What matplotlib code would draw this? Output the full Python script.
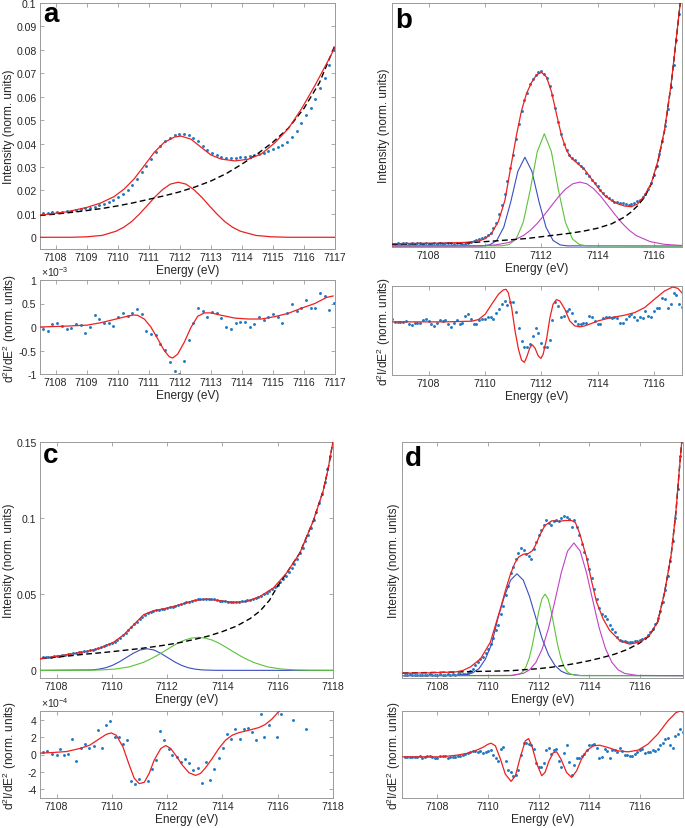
import numpy as np
import matplotlib
matplotlib.use('Agg')
import matplotlib.pyplot as plt
from matplotlib.transforms import Bbox, TransformedBbox

plt.rcParams['font.family'] = ['Liberation Sans', 'DejaVu Sans']
plt.rcParams['mathtext.fontset'] = 'custom'
plt.rcParams['mathtext.rm'] = 'Liberation Sans'
plt.rcParams['mathtext.it'] = 'Liberation Sans:italic'
plt.rcParams['mathtext.bf'] = 'Liberation Sans:bold'
plt.rcParams['axes.unicode_minus'] = False

# ---------------- Panel a ----------------
a_dot_E = np.linspace(7107.6, 7116.97, 63)
a_dots = [0.0103, 0.0105, 0.0106, 0.0108, 0.0110, 0.0112, 0.0114, 0.0117, 0.0120, 0.0123,
          0.0127, 0.0131, 0.0137, 0.0144, 0.0151, 0.0160, 0.0172, 0.0186, 0.0203, 0.0225,
          0.0250, 0.0278, 0.0305, 0.0335, 0.0365, 0.0390, 0.0410, 0.0425, 0.0435, 0.0440,
          0.0440, 0.0436, 0.0424, 0.0410, 0.0390, 0.0372, 0.0360, 0.0350, 0.0343, 0.0339,
          0.0339, 0.0340, 0.0341, 0.0342, 0.0345, 0.0350, 0.0354, 0.0360, 0.0370, 0.0378,
          0.0384, 0.0392, 0.0405, 0.0428, 0.0455, 0.0488, 0.0520, 0.0552, 0.0592, 0.0636,
          0.0680, 0.0737, 0.0800]
a_fit_E = [7107.52, 7108.38, 7109.02, 7109.45, 7109.89, 7110.21, 7110.53, 7110.86, 7111.18,
           7111.50, 7111.83, 7112.04, 7112.36, 7112.69, 7113.01, 7113.33, 7113.77, 7114.20,
           7114.63, 7115.06, 7115.49, 7115.92, 7116.35, 7116.78, 7117.05]
a_fit = [0.0095, 0.0109, 0.0128, 0.0146, 0.0174, 0.0206, 0.0249, 0.0306, 0.0363,
         0.0405, 0.0428, 0.0432, 0.0419, 0.0384, 0.0351, 0.0334, 0.0326, 0.0333,
         0.0356, 0.0403, 0.0463, 0.0548, 0.0647, 0.0754, 0.0825]
a_peak_E = [7107.5, 7108.5, 7109.0, 7109.5, 7109.95, 7110.2, 7110.45, 7110.7, 7110.95, 7111.2,
            7111.45, 7111.7, 7111.95, 7112.2, 7112.45, 7112.7, 7112.95, 7113.2, 7113.45,
            7113.7, 7113.95, 7114.45, 7114.95, 7115.5, 7117.0]
a_peak = [0, 0, 0.0002, 0.0008, 0.0026, 0.0043, 0.0067, 0.0099, 0.0135, 0.0172,
          0.0204, 0.0227, 0.0235, 0.0227, 0.0204, 0.0172, 0.0135, 0.0099, 0.0067,
          0.0043, 0.0026, 0.0008, 0.0002, 0, 0]
a_base_E = [7107.5, 7108.0, 7108.5, 7109.0, 7109.5, 7110.0, 7110.5, 7111.0, 7111.5, 7112.0,
            7112.5, 7113.0, 7113.5, 7114.0, 7114.5, 7115.0, 7115.5, 7116.0, 7116.5, 7117.0]
a_base = [0.0093, 0.0099, 0.0106, 0.0114, 0.0123, 0.0134, 0.0147, 0.0162, 0.0177, 0.0194,
          0.0215, 0.0240, 0.0272, 0.0312, 0.0356, 0.0406, 0.0466, 0.0550, 0.0660, 0.0820]
# second derivative (x1e-3)
a_d2_dots = [-0.05, -0.08, 0.06, 0.09, 0.02, -0.04, -0.03, 0.07, 0.04, -0.12,
             -0.01, 0.25, 0.18, 0.09, 0.09, 0.02, 0.22, 0.29, 0.24, 0.29,
             0.38, 0.27, -0.09, -0.14, -0.17, -0.37, -0.49, -0.74, -0.94, -0.99,
             -0.72, -0.27, 0.09, 0.41, 0.35, 0.22, 0.31, 0.30, 0.20, 0.01,
             -0.04, 0.09, 0.11, 0.11, 0.01, 0.06, 0.21, 0.14, 0.21, 0.27,
             0.22, 0.09, 0.30, 0.50, 0.35, 0.40, 0.58, 0.40, 0.41, 0.72,
             0.65, 0.37, 0.52]
a_d2_fit_E = [7107.52, 7108.38, 7109.02, 7109.45, 7109.89, 7110.32, 7110.5, 7110.64, 7110.86,
              7111.07, 7111.29, 7111.50, 7111.66, 7111.77, 7111.93, 7112.15, 7112.36, 7112.58,
              7112.80, 7113.01, 7113.33, 7113.77, 7114.20, 7114.63, 7115.06, 7115.49, 7115.92,
              7116.35, 7116.73, 7116.94]
a_d2_fit = [0.00, 0.02, 0.04, 0.09, 0.16, 0.23, 0.255, 0.25, 0.17,
            0.00, -0.25, -0.50, -0.63, -0.66, -0.58, -0.32, -0.01, 0.23,
            0.30, 0.30, 0.25, 0.19, 0.17, 0.17, 0.22, 0.29, 0.40,
            0.50, 0.63, 0.66]

# ---------------- Panel b ----------------
b_dot_E = 7106.8 + 0.1 * np.arange(102)
b_dots = [0.010, 0.011, 0.009, 0.012, 0.013, 0.008, 0.011, 0.010, 0.014, 0.011,
          0.009, 0.012, 0.010, 0.008, 0.011, 0.009, 0.013, 0.010, 0.012, 0.014,
          0.011, 0.009, 0.012, 0.014, 0.010, 0.008, 0.012, 0.017, 0.022, 0.026,
          0.030, 0.034, 0.039, 0.046, 0.055, 0.072, 0.095, 0.130, 0.170, 0.215,
          0.268, 0.320, 0.372, 0.440, 0.500, 0.552, 0.600, 0.628, 0.665, 0.685,
          0.700, 0.712, 0.718, 0.705, 0.688, 0.655, 0.620, 0.565, 0.510, 0.460,
          0.420, 0.392, 0.372, 0.360, 0.352, 0.340, 0.330, 0.318, 0.300, 0.285,
          0.270, 0.258, 0.244, 0.230, 0.218, 0.205, 0.197, 0.190, 0.182, 0.180,
          0.176, 0.177, 0.174, 0.170, 0.172, 0.178, 0.183, 0.190, 0.200, 0.212,
          0.232, 0.258, 0.292, 0.330, 0.378, 0.430, 0.490, 0.560, 0.650, 0.740,
          0.845, 0.950]
b_fit_E = [7106.70, 7107.41, 7108.59, 7109.30, 7109.77, 7110.01, 7110.24, 7110.48, 7110.71,
           7110.95, 7111.13, 7111.30, 7111.48, 7111.66, 7111.83, 7112.01, 7112.19, 7112.37,
           7112.54, 7112.72, 7112.90, 7113.07, 7113.31, 7113.55, 7113.78, 7114.02, 7114.25,
           7114.49, 7114.72, 7114.96, 7115.20, 7115.43, 7115.67, 7115.91, 7116.14, 7116.38,
           7116.61, 7116.85, 7116.94]
b_fit = [0.0095, 0.011, 0.012, 0.015, 0.020, 0.030, 0.053, 0.101, 0.187,
         0.344, 0.460, 0.555, 0.626, 0.671, 0.701, 0.712, 0.692, 0.630,
         0.542, 0.453, 0.392, 0.360, 0.337, 0.312, 0.276, 0.239, 0.207,
         0.187, 0.173, 0.164, 0.161, 0.173, 0.207, 0.258, 0.347, 0.476,
         0.660, 0.906, 0.999]
b_blue_E = [7106.7, 7109.92, 7110.17, 7110.42, 7110.67, 7110.92, 7111.17, 7111.42, 7111.67,
            7111.92, 7112.17, 7112.42, 7112.67, 7112.92, 7117.0]
b_blue = [0, 0.0007, 0.0048, 0.0228, 0.077, 0.182, 0.306, 0.364, 0.306,
          0.182, 0.077, 0.0228, 0.0048, 0.0007, 0]
b_green_E = [7106.7, 7110.61, 7110.86, 7111.11, 7111.36, 7111.61, 7111.86, 7112.11, 7112.36,
             7112.61, 7112.86, 7113.11, 7113.36, 7113.61, 7117.0]
b_green = [0, 0.0009, 0.0061, 0.0288, 0.0966, 0.23, 0.387, 0.46, 0.387,
           0.23, 0.0966, 0.0288, 0.0061, 0.0009, 0]
b_mag_E = [7106.7, 7109.37, 7109.87, 7110.37, 7110.87, 7111.37, 7111.62, 7111.87, 7112.12,
           7112.37, 7112.62, 7112.87, 7113.12, 7113.37, 7113.62, 7113.87, 7114.12, 7114.37,
           7114.62, 7114.87, 7115.12, 7115.37, 7115.87, 7116.37, 7116.87, 7117.0]
b_mag = [0, 0.0003, 0.001, 0.0044, 0.015, 0.043, 0.065, 0.094, 0.129,
         0.166, 0.203, 0.234, 0.255, 0.262, 0.255, 0.234, 0.203, 0.166,
         0.129, 0.094, 0.065, 0.043, 0.018, 0.007, 0.003, 0.0025]
b_base_E = [7106.7, 7107.5, 7108.5, 7109.5, 7110.5, 7111.5, 7112.5, 7113.0, 7113.5, 7114.0,
            7114.5, 7114.96, 7115.2, 7115.43, 7115.67, 7115.91, 7116.14, 7116.38, 7116.61,
            7116.85, 7116.94]
b_base = [0.007, 0.009, 0.011, 0.014, 0.022, 0.031, 0.045, 0.052, 0.061, 0.073,
          0.091, 0.119, 0.140, 0.166, 0.200, 0.255, 0.344, 0.473, 0.658,
          0.903, 0.999]
b_d2_dot_E = 7106.7 + 0.1 * np.arange(104)
b_d2_dots = [0.10, 0.00, -0.01, 0.01, 0.00, 0.03, -0.07, -0.09, -0.02, -0.03,
             -0.02, 0.06, 0.10, 0.03, -0.07, -0.12, -0.02, 0.05, 0.03, 0.05,
             -0.05, -0.14, -0.02, 0.06, -0.07, -0.02, 0.18, 0.23, 0.10, -0.07,
             -0.07, 0.05, 0.08, 0.08, 0.15, 0.15, 0.10, 0.27, 0.40, 0.55,
             0.62, 0.52, 0.60, 0.60, 0.29, -0.18, -0.58, -0.76, -0.76, -0.68,
             -0.43, -0.18, -0.33, -0.65, -0.76, -0.76, -0.55, 0.07, 0.59, 0.47,
             0.15, 0.19, 0.32, 0.39, 0.27, 0.02, -0.05, -0.05, -0.04, -0.03,
             0.17, 0.14, 0.02, -0.07, -0.07, 0.13, 0.15, 0.15, 0.13, 0.15,
             0.11, -0.02, -0.04, 0.08, 0.18, 0.25, 0.15, 0.05, 0.15, 0.11,
             0.33, 0.18, 0.16, 0.33, 0.43, 0.43, 0.71, 0.68, 0.43, 0.53,
             0.88, 0.81, 0.53, 0.46]
b_d2_fit_E = [7106.70, 7108.59, 7109.53, 7109.77, 7110.01, 7110.24, 7110.48, 7110.65, 7110.75,
              7110.83, 7110.95, 7111.07, 7111.19, 7111.30, 7111.40, 7111.48, 7111.60, 7111.68,
              7111.78, 7111.89, 7111.99, 7112.07, 7112.19, 7112.31, 7112.42, 7112.54, 7112.66,
              7112.84, 7113.01, 7113.19, 7113.37, 7113.55, 7113.78, 7114.02, 7114.49, 7114.96,
              7115.32, 7115.67, 7116.02, 7116.38, 7116.67, 7116.85, 7116.99]
b_d2_fit = [0, 0, 0.02, 0.07, 0.23, 0.53, 0.83, 0.96, 0.98,
            0.88, 0.43, -0.27, -0.82, -1.15, -1.22, -1.07, -0.77, -0.69,
            -0.79, -1.02, -1.10, -0.97, -0.52, 0.13, 0.53, 0.67, 0.63,
            0.38, 0.03, -0.12, -0.15, -0.12, -0.05, 0.03, 0.13, 0.20,
            0.28, 0.43, 0.68, 0.93, 1.05, 1.01, 0.88]

# ---------------- Panel c ----------------
c_dot_E = 7107.5 + 0.1 * np.arange(105)
c_dots = [0.0085, 0.0087, 0.0089, 0.0091, 0.0093, 0.0095, 0.0097, 0.0100, 0.0102, 0.0105,
          0.0108, 0.0111, 0.0114, 0.0118, 0.0121, 0.0125, 0.0129, 0.0133, 0.0137, 0.0142,
          0.0147, 0.0152, 0.0158, 0.0164, 0.0171, 0.0179, 0.0189, 0.0201, 0.0215, 0.0230,
          0.0247, 0.0266, 0.0285, 0.0303, 0.0321, 0.0338, 0.0353, 0.0366, 0.0376, 0.0384,
          0.0390, 0.0394, 0.0398, 0.0402, 0.0406, 0.0410, 0.0414, 0.0419, 0.0424, 0.0429,
          0.0434, 0.0440, 0.0446, 0.0452, 0.0458, 0.0463, 0.0467, 0.0470, 0.0472, 0.0472,
          0.0471, 0.0469, 0.0466, 0.0462, 0.0459, 0.0456, 0.0453, 0.0451, 0.0450, 0.0449,
          0.0450, 0.0451, 0.0453, 0.0456, 0.0460, 0.0465, 0.0471, 0.0477, 0.0484, 0.0491,
          0.0500, 0.0510, 0.0521, 0.0533, 0.0547, 0.0563, 0.0581, 0.0601, 0.0623, 0.0647,
          0.0673, 0.0701, 0.0733, 0.0768, 0.0806, 0.0847, 0.0890, 0.0937, 0.0988, 0.1043,
          0.1101, 0.1160, 0.1240, 0.1320, 0.1410]
c_fit_E = [7107.42, 7108.38, 7109.11, 7109.59, 7110.07, 7110.43, 7110.79, 7111.15, 7111.51,
           7111.99, 7112.47, 7112.95, 7113.43, 7113.91, 7114.39, 7114.88, 7115.36, 7115.84,
           7116.32, 7116.80, 7117.28, 7117.64, 7117.82, 7118.0]
c_fit = [0.0077, 0.0103, 0.0125, 0.0147, 0.0186, 0.0234, 0.0300, 0.0366, 0.0392,
         0.0409, 0.0431, 0.0458, 0.0469, 0.0458, 0.0447, 0.0453, 0.0486, 0.0541,
         0.0639, 0.0771, 0.0979, 0.1176, 0.132, 0.1504]
c_blue_E = [7107.4, 7109.27, 7109.52, 7109.77, 7110.02, 7110.27, 7110.52, 7110.77, 7111.02,
            7111.27, 7111.52, 7111.77, 7112.02, 7112.27, 7112.52, 7112.77, 7113.02, 7113.27,
            7113.77, 7118.0]
c_blue = [0, 0.0003, 0.0008, 0.0017, 0.0033, 0.0056, 0.0084, 0.0112, 0.0134,
          0.0142, 0.0134, 0.0112, 0.0084, 0.0056, 0.0033, 0.0017, 0.0008, 0.0003,
          0.00004, 0]
c_green_E = [7107.4, 7109.13, 7109.63, 7110.13, 7110.63, 7111.13, 7111.38, 7111.63, 7111.88,
             7112.13, 7112.38, 7112.63, 7112.88, 7113.13, 7113.38, 7113.63, 7113.88, 7114.13,
             7114.38, 7114.63, 7114.88, 7115.13, 7115.63, 7116.13, 7116.63, 7117.13, 7118.0]
c_green = [0, 0.0001, 0.0003, 0.0009, 0.0023, 0.0052, 0.0073, 0.0097, 0.0124,
           0.0152, 0.0178, 0.0199, 0.0212, 0.0217, 0.0212, 0.0199, 0.0178, 0.0152,
           0.0124, 0.0097, 0.0073, 0.0052, 0.0023, 0.0009, 0.0003, 0.0001, 0]
c_base_E = [7107.42, 7108.0, 7108.5, 7109.0, 7109.5, 7110.0, 7110.5, 7111.0, 7111.5, 7112.0,
            7112.5, 7113.0, 7113.5, 7114.0, 7114.5, 7115.0, 7115.36, 7115.7, 7116.0, 7116.32,
            7116.80, 7117.28, 7117.64, 7117.82, 7118.0]
c_base = [0.0077, 0.0087, 0.0096, 0.0106, 0.0114, 0.0123, 0.0133, 0.0143, 0.0155, 0.0168,
          0.0184, 0.0204, 0.0226, 0.0255, 0.0290, 0.0340, 0.0390, 0.0460, 0.0555, 0.0639,
          0.0771, 0.0979, 0.1176, 0.132, 0.1504]
# second derivative (x1e-4)
c_d2_dot_E = [7107.50, 7107.66, 7107.84, 7108.00, 7108.12, 7108.28, 7108.42, 7108.57, 7108.72,
              7108.87, 7109.04, 7109.17, 7109.34, 7109.50, 7109.64, 7109.80, 7109.95, 7110.10,
              7110.25, 7110.40, 7110.54, 7110.69, 7110.85, 7110.99, 7111.29, 7111.45, 7111.59,
              7111.75, 7111.89, 7112.05, 7112.19, 7112.34, 7112.49, 7112.65, 7112.79, 7112.95,
              7113.11, 7113.27, 7113.41, 7113.56, 7113.71, 7113.87, 7114.01, 7114.17, 7114.32,
              7114.47, 7114.62, 7114.77, 7114.92, 7115.07, 7115.22, 7115.38, 7115.52, 7115.68,
              7115.98, 7116.12, 7116.56, 7117.04]
c_d2_dots = [0.23, 0.38, 0.11, -0.08, 0.61, 0.00, 0.11, 1.83, -0.76,
             0.69, 1.26, 0.76, 0.99, 2.86, 0.76, 3.43, 3.89, 2.02,
             2.02, 1.26, 1.71, -3.05, -3.43, -2.82, -3.05, -1.68, -0.65,
             2.70, 1.64, 0.61, -0.08, -0.34, -0.84, -0.57, -0.95, -1.80,
             -1.50, -3.25, -0.90, -2.95, -1.65, -0.40, 0.76, 2.32, 1.83,
             2.97, 1.75, 2.90, 3.09, 2.59, 1.64, 4.60, 2.02, 3.35,
             2.02, 4.69, 3.92, 2.97]
c_d2_fit_E = [7107.40, 7107.88, 7108.36, 7108.84, 7109.20, 7109.56, 7109.80, 7109.98, 7110.16,
              7110.40, 7110.63, 7110.81, 7110.99, 7111.17, 7111.35, 7111.53, 7111.77, 7111.95,
              7112.13, 7112.31, 7112.55, 7112.79, 7113.03, 7113.21, 7113.39, 7113.63, 7113.87,
              7114.11, 7114.35, 7114.59, 7114.95, 7115.31, 7115.54, 7115.78, 7116.02, 7116.14]
c_d2_fit = [0.15, 0.23, 0.34, 0.69, 1.07, 1.83, 2.32, 2.48, 2.21,
            0.88, -1.22, -2.74, -3.35, -3.20, -2.17, -0.65, 0.69, 1.03,
            0.69, -0.08, -1.22, -2.10, -2.40, -2.17, -1.52, -0.46, 0.69,
            1.64, 2.21, 2.51, 2.78, 3.09, 3.43, 4.04, 4.88, 5.18]

# ---------------- Panel d ----------------
d_dot_E = 7106.7 + 0.1 * np.arange(110)
d_dots = [0.004, 0.002, 0.005, 0.003, 0.002, 0.004, 0.003, 0.001, 0.004, 0.003,
          0.005, 0.002, 0.004, 0.003, 0.005, 0.004, 0.002, 0.005, 0.004, 0.006,
          0.004, 0.005, 0.007, 0.006, 0.008, 0.012, 0.018, 0.030, 0.045, 0.058,
          0.070, 0.082, 0.099, 0.115, 0.135, 0.160, 0.195, 0.215, 0.262, 0.300,
          0.345, 0.385, 0.440, 0.465, 0.500, 0.525, 0.547, 0.538, 0.520, 0.510,
          0.500, 0.540, 0.570, 0.600, 0.625, 0.645, 0.665, 0.655, 0.645, 0.660,
          0.665, 0.660, 0.675, 0.683, 0.680, 0.672, 0.635, 0.668, 0.635, 0.600,
          0.565, 0.530, 0.500, 0.455, 0.420, 0.370, 0.330, 0.290, 0.262, 0.255,
          0.243, 0.215, 0.200, 0.186, 0.165, 0.152, 0.148, 0.147, 0.145, 0.146,
          0.146, 0.147, 0.150, 0.152, 0.158, 0.163, 0.172, 0.185, 0.200, 0.220,
          0.245, 0.275, 0.315, 0.365, 0.425, 0.490, 0.575, 0.675, 0.800, 0.940]
d_fit_E = [7106.63, 7107.67, 7108.72, 7109.0, 7109.31, 7109.70, 7110.09, 7110.49, 7110.70,
           7110.88, 7111.05, 7111.21, 7111.40, 7111.58, 7111.75, 7111.86, 7112.06, 7112.25,
           7112.52, 7112.78, 7113.04, 7113.30, 7113.45, 7113.62, 7113.89, 7114.09, 7114.28,
           7114.54, 7114.80, 7115.20, 7115.59, 7115.98, 7116.37, 7116.70, 7116.97, 7117.23,
           7117.42, 7117.55, 7117.65]
d_fit = [0.011, 0.012, 0.016, 0.022, 0.038, 0.072, 0.143, 0.288, 0.370,
         0.433, 0.480, 0.508, 0.520, 0.522, 0.535, 0.555, 0.605, 0.643,
         0.663, 0.660, 0.664, 0.664, 0.655, 0.608, 0.506, 0.404, 0.317,
         0.244, 0.194, 0.150, 0.135, 0.143, 0.172, 0.230, 0.355, 0.515,
         0.700, 0.875, 1.0]
d_blue_E = [7106.63, 7108.64, 7109.14, 7109.39, 7109.64, 7109.89, 7110.14, 7110.39, 7110.64,
            7110.89, 7111.14, 7111.39, 7111.64, 7111.89, 7112.14, 7112.39, 7112.64, 7112.89,
            7113.14, 7113.64, 7117.7]
d_blue = [0, 0.0002, 0.004, 0.012, 0.03, 0.07, 0.135, 0.246, 0.338,
          0.409, 0.436, 0.409, 0.338, 0.246, 0.157, 0.0886, 0.0438, 0.019,
          0.0074, 0.0007, 0]
d_green_E = [7106.63, 7110.75, 7111.0, 7111.25, 7111.375, 7111.5, 7111.625, 7111.75, 7111.875,
             7112.0, 7112.125, 7112.25, 7112.375, 7112.5, 7112.625, 7112.75, 7112.875, 7113.0,
             7113.125, 7113.25, 7113.5, 7113.75, 7117.7]
d_green = [0, 0.0, 0.0008, 0.0069, 0.0174, 0.0385, 0.0755, 0.131, 0.201,
           0.273, 0.328, 0.349, 0.328, 0.273, 0.201, 0.131, 0.0755, 0.0385,
           0.0174, 0.0069, 0.0008, 0.0, 0]
d_mag_E = [7106.63, 7110.89, 7111.39, 7111.64, 7111.89, 7112.14, 7112.39, 7112.64, 7112.89,
           7113.14, 7113.39, 7113.64, 7113.89, 7114.14, 7114.39, 7114.64, 7114.89, 7115.14,
           7115.39, 7115.89, 7117.7]
d_mag = [0, 0.001, 0.0096, 0.025, 0.057, 0.115, 0.204, 0.320, 0.440,
         0.533, 0.568, 0.533, 0.440, 0.320, 0.204, 0.115, 0.057, 0.025,
         0.0096, 0.001, 0]
d_base_E = [7106.63, 7107.5, 7108.5, 7109.5, 7110.5, 7111.0, 7111.5, 7112.0, 7112.5, 7113.0,
            7113.5, 7114.0, 7114.5, 7115.0, 7115.5, 7115.98, 7116.37, 7116.70, 7116.97,
            7117.23, 7117.42, 7117.55, 7117.65]
d_base = [0.011, 0.013, 0.015, 0.018, 0.020, 0.022, 0.026, 0.030, 0.036, 0.044,
          0.053, 0.064, 0.077, 0.092, 0.112, 0.139, 0.170, 0.230, 0.355,
          0.515, 0.700, 0.875, 1.0]
d_d2_dot_E = 7106.7 + 0.1 * np.arange(111)
d_d2_dots = [0.00, 0.00, -0.01, 0.00, 0.00, 0.00, 0.01, -0.03, -0.02, 0.01,
             0.01, -0.02, -0.04, -0.03, 0.01, 0.03, 0.01, -0.03, -0.02, 0.00,
             -0.02, 0.01, 0.03, 0.06, 0.10, 0.12, 0.14, 0.17, 0.17, 0.16,
             0.17, 0.13, 0.16, 0.18, 0.20, 0.04, -0.05, -0.12, 0.25, 0.31,
             -0.12, -0.40, -0.47, -0.57, -0.55, -0.40, 0.05, 0.43, 0.43, 0.40,
             0.36, 0.23, -0.18, -0.30, -0.30, -0.20, 0.20, 0.28, 0.08, 0.20,
             0.23, -0.14, -0.30, 0.13, 0.35, -0.17, -0.55, -0.25, -0.05, -0.05,
             0.02, 0.10, 0.20, 0.35, 0.37, 0.40, 0.27, -0.03, 0.00, 0.25,
             0.18, -0.05, 0.20, 0.22, 0.15, 0.28, 0.18, 0.05, 0.05, 0.03,
             0.03, 0.08, 0.15, 0.21, 0.23, 0.13, 0.15, 0.15, 0.21, 0.18,
             0.23, 0.35, 0.43, 0.55, 0.58, 0.35, 0.28, 0.63, 0.68, 0.85,
             0.75]
d_d2_fit_E = [7106.63, 7108.13, 7108.78, 7109.20, 7109.44, 7109.64, 7109.83, 7110.00, 7110.12,
              7110.29, 7110.49, 7110.68, 7110.91, 7111.08, 7111.27, 7111.47, 7111.60, 7111.73,
              7111.93, 7112.12, 7112.25, 7112.41, 7112.58, 7112.71, 7112.88, 7113.10, 7113.30,
              7113.50, 7113.69, 7113.89, 7114.15, 7114.41, 7114.74, 7115.13, 7115.53, 7115.92,
              7116.31, 7116.70, 7117.10, 7117.42, 7117.59, 7117.69]
d_d2_fit = [0, 0.0, 0.05, 0.11, 0.17, 0.23, 0.30, 0.38, 0.41,
            0.33, -0.07, -0.52, -0.74, -0.57, -0.02, 0.48, 0.55, 0.33,
            -0.22, -0.57, -0.47, -0.12, 0.13, 0.15, -0.07, -0.47, -0.62,
            -0.42, -0.07, 0.18, 0.33, 0.35, 0.28, 0.18, 0.15, 0.20,
            0.38, 0.68, 1.08, 1.33, 1.38, 1.35]

# ---------------- drawing ----------------
W, H = 685, 829
fig = plt.figure(figsize=(W / 100, H / 100), dpi=100)

RED = '#ee2020'
DOT = '#1f78c4'
BLUE = '#3b4cc0'
GREEN = '#5cc23a'
MAG = '#c240c4'
FRAME = '#9a9a9a'
TXT = '#262626'


def make_axes(l, t, r, b):
    return fig.add_axes([l / W, 1 - b / H, (r - l) / W, (b - t) / H])


def style(ax, xlim, ylim, xticks, yticks=None, yticklabels=None, ylabel='', ylab_x=None):
    ax.set_xlim(xlim)
    ax.set_ylim(ylim)
    ax.set_xticks(xticks)
    ax.set_xticklabels([str(t) for t in xticks])
    if yticks is None:
        ax.set_yticks([])
    else:
        ax.set_yticks(yticks)
        ax.set_yticklabels(yticklabels)
    for s in ax.spines.values():
        s.set_color(FRAME)
        s.set_linewidth(0.7)
    ax.tick_params(direction='in', top=True, right=True, length=3, width=0.6,
                   color=FRAME, labelcolor=TXT, labelsize=7.6, pad=2.5)
    ax.set_xlabel('Energy (eV)', fontsize=8.6, color=TXT, labelpad=1)
    ax.set_ylabel(ylabel, fontsize=8.6, color=TXT, va='center')
    if ylab_x is not None:
        ax.yaxis.set_label_coords(ylab_x, 0.5)


def dots(ax, x, y):
    ax.plot(x, y, 'o', ms=2.1, mew=0, color=DOT, zorder=2)


def line(ax, x, y, c, lw=0.9, ls='-', z=3):
    if ls == '--':
        ax.plot(x, y, color=c, lw=lw, dashes=(4.2, 2.4), zorder=z)
    else:
        ax.plot(x, y, color=c, lw=lw, zorder=z)


def letter(ax, s, x, y):
    ax.text(x, y, s, transform=ax.transAxes, fontsize=20, fontweight='bold',
            color='black', ha='left', va='baseline')


ILAB = 'Intensity (norm. units)'
DLAB = r'd$^2$I/dE$^2$ (norm. units)'

# a top
ax = make_axes(40, 4, 335, 250)
dots(ax, a_dot_E, a_dots)
line(ax, a_peak_E, a_peak, RED)
line(ax, a_base_E, a_base, 'black', lw=1.0, ls='--')
line(ax, a_fit_E, a_fit, RED, z=4)
yt = [0, 0.01, 0.02, 0.03, 0.04, 0.05, 0.06, 0.07, 0.08, 0.09, 0.1]
style(ax, (7107.5, 7117), (-0.005, 0.1), list(range(7108, 7118)), yt,
      ['0', '0.01', '0.02', '0.03', '0.04', '0.05', '0.06', '0.07', '0.08', '0.09', '0.1'],
      ILAB, ylab_x=(9 - 40) / 295)
letter(ax, 'a', 0.01, 0.928)
ax_a_top = ax

# a bottom
ax = make_axes(40, 281, 335, 375)
dots(ax, a_dot_E, a_d2_dots)
line(ax, a_d2_fit_E, a_d2_fit, RED, z=4)
style(ax, (7107.5, 7117), (-1, 1), list(range(7108, 7118)), [-1, -0.5, 0, 0.5, 1],
      ['-1', '-0.5', '0', '0.5', '1'], DLAB, ylab_x=(10 - 40) / 295)
ax.text(0.005, 1.02, r'$\times10^{-3}$', transform=ax.transAxes, fontsize=7.5,
        color=TXT, ha='left', va='bottom')
ax_a_bot = ax

# b top
ax = make_axes(392, 4, 682, 248)
dots(ax, b_dot_E, b_dots)
line(ax, b_blue_E, b_blue, BLUE, lw=0.8)
line(ax, b_green_E, b_green, GREEN, lw=0.8)
line(ax, b_mag_E, b_mag, MAG, lw=0.8)
line(ax, b_base_E, b_base, 'black', lw=1.0, ls='--')
line(ax, b_fit_E, b_fit, RED, z=4)
style(ax, (7106.7, 7117), (-0.004, 0.996), [7108, 7110, 7112, 7114, 7116],
      ylabel=ILAB, ylab_x=(384 - 392) / 290)
letter(ax, 'b', 0.01, 0.90)

# b bottom
ax = make_axes(392, 287, 682, 376)
dots(ax, b_d2_dot_E, b_d2_dots)
line(ax, b_d2_fit_E, b_d2_fit, RED, z=4)
style(ax, (7106.7, 7117), (-1.6, 1.08), [7108, 7110, 7112, 7114, 7116],
      ylabel=DLAB, ylab_x=(384 - 392) / 290)

# c top
ax = make_axes(40, 443, 333, 679)
dots(ax, c_dot_E, c_dots)
line(ax, c_blue_E, c_blue, BLUE, lw=0.8)
line(ax, c_green_E, c_green, GREEN, lw=0.8)
line(ax, c_base_E, c_base, 'black', lw=1.0, ls='--')
line(ax, c_fit_E, c_fit, RED, z=4)
style(ax, (7107.4, 7118), (-0.005, 0.15), [7108, 7110, 7112, 7114, 7116, 7118],
      [0, 0.05, 0.1, 0.15], ['0', '0.05', '0.1', '0.15'], ILAB, ylab_x=(9 - 40) / 293)
letter(ax, 'c', 0.01, 0.916)

# c bottom
ax = make_axes(40, 712, 333, 799)
dots(ax, c_d2_dot_E, c_d2_dots)
line(ax, c_d2_fit_E, c_d2_fit, RED, z=4)
style(ax, (7107.4, 7118), (-5, 5), [7108, 7110, 7112, 7114, 7116, 7118],
      [-4, -2, 0, 2, 4], ['-4', '-2', '0', '2', '4'], DLAB, ylab_x=(10 - 40) / 293)
ax.text(0.005, 1.02, r'$\times10^{-4}$', transform=ax.transAxes, fontsize=7.5,
        color=TXT, ha='left', va='bottom')

# d top
ax = make_axes(402, 443, 683, 679)
dots(ax, d_dot_E, d_dots)
line(ax, d_blue_E, d_blue, BLUE, lw=0.8)
line(ax, d_green_E, d_green, GREEN, lw=0.8)
line(ax, d_mag_E, d_mag, MAG, lw=0.8)
line(ax, d_base_E, d_base, 'black', lw=1.0, ls='--')
line(ax, d_fit_E, d_fit, RED, z=4)
style(ax, (7106.6, 7117.7), (-0.01, 1.0), [7108, 7110, 7112, 7114, 7116],
      ylabel=ILAB, ylab_x=(394 - 402) / 281)
letter(ax, 'd', 0.01, 0.903)

# d bottom
ax = make_axes(402, 712, 683, 799)
dots(ax, d_d2_dot_E, d_d2_dots)
line(ax, d_d2_fit_E, d_d2_fit, RED, z=4)
style(ax, (7106.6, 7117.7), (-1.24, 1.38), [7108, 7110, 7112, 7114, 7116],
      ylabel=DLAB, ylab_x=(394 - 402) / 281)

# the last tick label of panel a is cut by the neighbouring panel in the original
clip = TransformedBbox(Bbox([[0, 0], [345 / W, 1]]), fig.transFigure)
for a in (ax_a_top, ax_a_bot):
    t = a.xaxis.get_major_ticks()[-1]
    t.label1.set_clip_box(clip)
    t.label1.set_clip_on(True)

fig.savefig('out.png', dpi=100)
